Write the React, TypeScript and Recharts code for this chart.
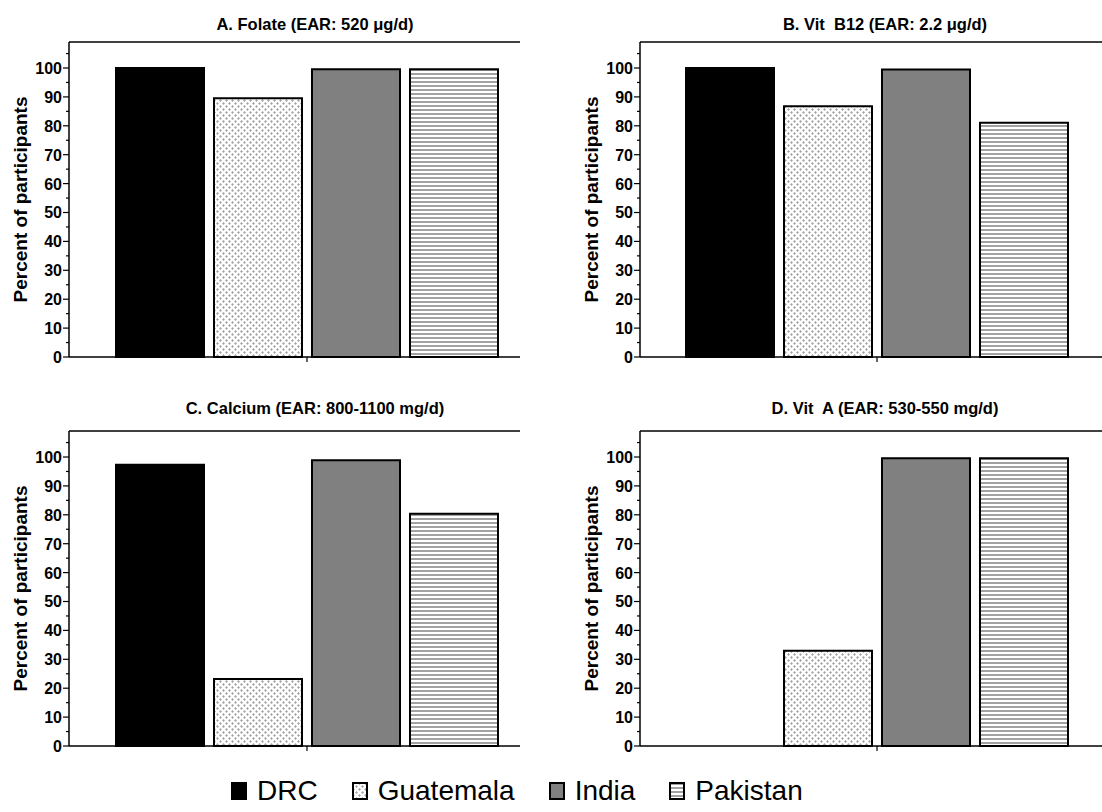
import { BarChart, Bar, XAxis, YAxis, ReferenceLine } from "recharts";

const countries = ["DRC", "Guatemala", "India", "Pakistan"];

// percent of participants below EAR, per panel (DRC, Guatemala, India, Pakistan)
const folate = [100, 89.5, 99.6, 99.6];
const vitB12 = [100, 86.8, 99.5, 81.1];
const calcium = [97.3, 23.2, 98.9, 80.4];
const vitA = [0, 33, 99.6, 99.6];

const yTicks = [0, 5, 10, 15, 20, 25, 30, 35, 40, 45, 50, 55, 60, 65, 70, 75, 80, 85, 90, 95, 100, 105];
const yMax = 109;

const titles = [
  "A. Folate (EAR: 520 \u03bcg/d)",
  "B. Vit  B12 (EAR: 2.2 \u03bcg/d)",
  "C. Calcium (EAR: 800-1100 mg/d)",
  "D. Vit  A (EAR: 530-550 mg/d)",
];

const FONT = "'Liberation Sans', Arial, sans-serif";
const AXIS_X = 69;
const TOP = 42;
const PLOT_H = 315;

const fillFor = (country: string, id: string) => {
  if (country === "DRC") return "#000";
  if (country === "Guatemala") return `url(#dots-${id})`;
  if (country === "India") return "#808080";
  return `url(#lines-${id})`;
};

const Patterns = ({ id }: { id: string }) => (
  <defs>
    <pattern id={`dots-${id}`} width={6} height={6} patternUnits="userSpaceOnUse">
      <rect width={6} height={6} fill="#fff" />
      <path d="M1.5 0.3v2.4M0.3 1.5h2.4M4.5 3.3v2.4M3.3 4.5h2.4" stroke="#a4a4a4" strokeWidth={1.2} />
    </pattern>
    <pattern id={`lines-${id}`} width={4} height={4} patternUnits="userSpaceOnUse">
      <rect width={4} height={4} fill="#fff" />
      <line x1={0} x2={4} y1={2} y2={2} stroke="#444" strokeWidth={1} />
    </pattern>
  </defs>
);

const YTick = (props: any) => {
  const { y, payload } = props;
  const v = payload.value;
  const major = v % 10 === 0;
  return (
    <g>
      <line x1={AXIS_X - (major ? 6 : 3)} x2={AXIS_X} y1={y} y2={y} stroke="#000" strokeWidth={1.2} />
      {major && (
        <text x={AXIS_X - 7} y={y} dy="0.37em" textAnchor="end" fontSize={16} fontWeight="bold" fontFamily={FONT} fill="#000">
          {v}
        </text>
      )}
    </g>
  );
};

function Panel({ id, title, values, left, top, width, right, padLeft }: any) {
  const row: any = { name: "" };
  countries.forEach((c, i) => (row[c] = values[i]));
  const data = [row];
  const plotCenter = AXIS_X + padLeft + (width - right - AXIS_X - padLeft) / 2;
  return (
    <div style={{ position: "absolute", left, top, width, height: 380 }}>
      <div
        style={{
          position: "absolute",
          left: plotCenter + 8 - 200,
          top: id === "a" || id === "b" ? 15 : 10,
          width: 400,
          textAlign: "center",
          fontFamily: FONT,
          fontWeight: "bold",
          fontSize: 16.5,
          lineHeight: "19px",
          whiteSpace: "pre",
        }}
      >
        {title}
      </div>
      <BarChart width={width} height={380} data={data} margin={{ top: TOP, right, bottom: 0, left: 0 }} barGap={10}>
        <Patterns id={id} />
        <XAxis
          dataKey="name"
          type="category"
          padding={{ left: padLeft, right: 0 }}
          height={23}
          tickFormatter={() => ""}
          tickSize={5}
          tickLine={{ stroke: "#000", strokeWidth: 1.2 }}
          axisLine={{ stroke: "#000", strokeWidth: 1.5 }}
        />
        <YAxis
          type="number"
          domain={[0, yMax]}
          ticks={yTicks}
          interval={0}
          width={AXIS_X}
          tickLine={false}
          tick={<YTick />}
          axisLine={{ stroke: "#000", strokeWidth: 1.5 }}
          label={{
            value: "Percent of participants",
            content: () => {
              const cy = TOP + PLOT_H / 2;
              return (
                <text
                  x={20}
                  y={cy}
                  transform={`rotate(-90 20 ${cy})`}
                  textAnchor="middle"
                  dominantBaseline="central"
                  fontSize={19}
                  fontWeight="bold"
                  fontFamily={FONT}
                  fill="#000"
                >
                  Percent of participants
                </text>
              );
            },
          }}
        />
        <ReferenceLine y={yMax} stroke="#000" strokeWidth={1.5} />
        {countries.map((c) => (
          <Bar
            key={c}
            dataKey={c}
            barSize={88}
            fill={fillFor(c, id)}
            stroke="#000"
            strokeWidth={2}
            isAnimationActive={false}
          />
        ))}
      </BarChart>
    </div>
  );
}

const LegendSwatch = ({ country }: { country: string }) => (
  <svg width={16} height={18} style={{ display: "block" }}>
    <Patterns id="legend" />
    {country === "DRC" ? (
      <rect x={0} y={0} width={16} height={18} fill="#000" />
    ) : (
      <rect x={1} y={1} width={14} height={16} fill={fillFor(country, "legend")} stroke="#000" strokeWidth={2} />
    )}
  </svg>
);

export default function App() {
  return (
    <div style={{ position: "absolute", left: 0, top: 0, width: 1102, height: 812, background: "#fff", overflow: "hidden" }}>
      <Panel id="a" title={titles[0]} values={folate} left={0} top={0} width={540} right={20} padLeft={25} />
      <Panel id="b" title={titles[1]} values={vitB12} left={571} top={0} width={531} right={0} padLeft={12} />
      <Panel id="c" title={titles[2]} values={calcium} left={0} top={389} width={540} right={20} padLeft={25} />
      <Panel id="d" title={titles[3]} values={vitA} left={571} top={389} width={531} right={0} padLeft={12} />
      <div
        style={{
          position: "absolute",
          left: 231,
          top: 773,
          display: "flex",
          alignItems: "center",
          gap: 34,
          fontFamily: FONT,
          fontSize: 28,
          lineHeight: "36px",
        }}
      >
        {countries.map((c) => (
          <div key={c} style={{ display: "flex", alignItems: "center", gap: 10 }}>
            <LegendSwatch country={c} />
            <span>{c}</span>
          </div>
        ))}
      </div>
    </div>
  );
}
